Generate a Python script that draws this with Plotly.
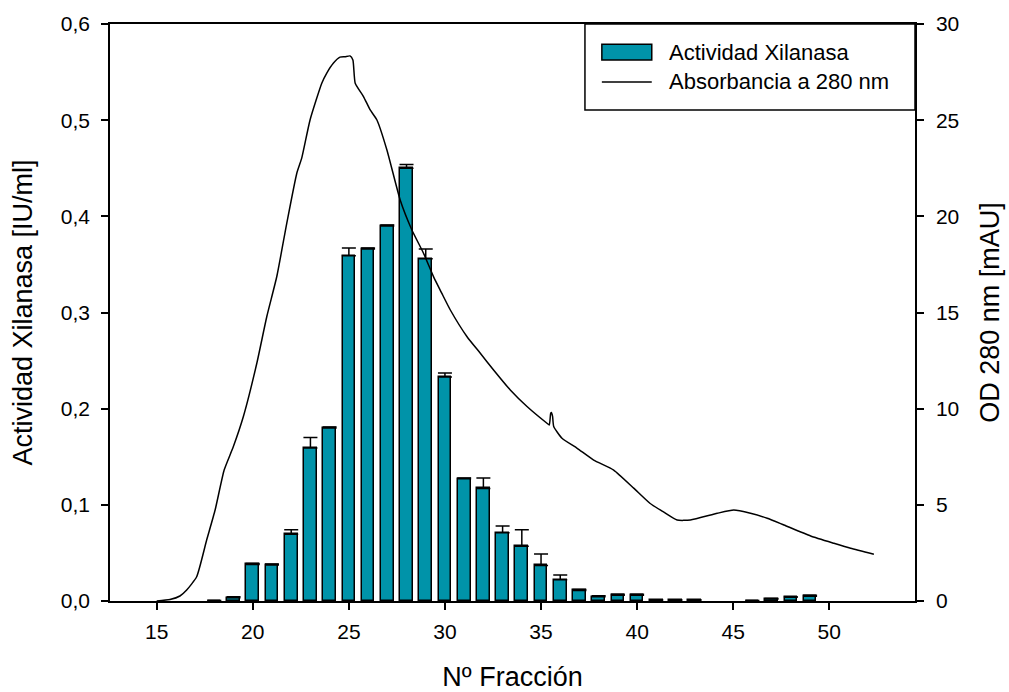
import plotly.graph_objects as go

# ---- Data ----
fractions = [18, 19, 20, 21, 22, 23, 24, 25, 26, 27, 28, 29, 30, 31, 32, 33, 34, 35,
             36, 37, 38, 39, 40, 41, 42, 43, 46, 47, 48, 49]
xilanasa = [0.0005, 0.0035, 0.038, 0.0375, 0.0695, 0.159, 0.180, 0.359, 0.366, 0.390,
            0.450, 0.356, 0.233, 0.127, 0.117, 0.071, 0.057, 0.037, 0.022, 0.011,
            0.0045, 0.006, 0.006, 0.001, 0.001, 0.001, 0.0005, 0.002, 0.004, 0.005]
xilanasa_err = [0.0, 0.001, 0.001, 0.001, 0.0045, 0.011, 0.001, 0.008, 0.001, 0.001,
                0.004, 0.010, 0.004, 0.001, 0.011, 0.007, 0.017, 0.012, 0.005, 0.001,
                0.001, 0.001, 0.001, 0.0, 0.0, 0.0, 0.0, 0.0005, 0.0005, 0.001]

abs_fraction = [15.00, 15.69, 16.21, 16.56, 17.08, 17.60, 18.04, 18.51, 18.99, 19.51,
                20.21, 20.73, 21.25, 21.77, 22.29, 22.55, 22.98, 23.59, 23.85, 24.20,
                24.54, 24.80, 25.06, 25.21, 25.33, 25.76, 26.11, 26.46, 26.98, 27.67,
                28.28, 28.89, 29.41, 29.84, 30.28, 31.15, 31.84, 32.53, 33.40, 34.27,
                35.31, 35.43, 35.50, 35.54, 35.60, 35.66, 36.09, 36.88, 37.74, 38.78,
                39.82, 40.68, 41.37, 42.08, 42.77, 44.17, 45.03, 45.90, 46.77, 47.64,
                49.03, 50.24, 51.11, 52.32]
abs_mau = [0.00, 0.08, 0.26, 0.57, 1.26, 3.17, 4.73, 6.81, 8.03, 9.59,
           12.36, 14.79, 16.87, 19.65, 22.24, 23.04, 25.01, 26.92, 27.45, 27.97,
           28.28, 28.30, 28.34, 28.13, 26.92, 26.23, 25.53, 25.01, 23.45, 20.85,
           19.29, 18.07, 16.85, 15.99, 15.13, 13.74, 12.88, 12.01, 10.97, 10.11,
           9.24, 9.15, 9.75, 9.80, 9.60, 9.07, 8.46, 7.94, 7.33, 6.81,
           5.87, 5.07, 4.63, 4.21, 4.21, 4.56, 4.73, 4.56, 4.30, 3.95,
           3.38, 3.00, 2.74, 2.43]

x_ticks = [15, 20, 25, 30, 35, 40, 45, 50]
y_ticks = [0.0, 0.1, 0.2, 0.3, 0.4, 0.5, 0.6]
y2_ticks = [0, 5, 10, 15, 20, 25, 30]

TEAL = "#0093A9"
FONT = "Liberation Sans, Arial, sans-serif"

fig = go.Figure()
fig.add_trace(go.Bar(
    x=fractions, y=xilanasa, name="Actividad Xilanasa", width=0.66,
    marker=dict(color=TEAL, line=dict(color="black", width=1.5)),
    error_y=dict(type="data", symmetric=False, array=xilanasa_err,
                 arrayminus=[0] * len(xilanasa_err), color="black",
                 thickness=1.5, width=7),
    showlegend=False,
))
fig.add_trace(go.Scatter(
    x=abs_fraction, y=abs_mau, name="Absorbancia a 280 nm", yaxis="y2",
    mode="lines", line=dict(color="black", width=1.5, shape="spline", smoothing=0.5),
    showlegend=False,
))

axis_common = dict(showline=True, linecolor="black", linewidth=1.5, ticks="outside",
                   ticklen=7, tickwidth=1.5, tickcolor="black", showgrid=False,
                   zeroline=False, automargin=False, tickfont=dict(size=21, color="black"))

fig.update_layout(
    width=1009, height=692,
    margin=dict(l=110, r=94, t=24, b=91, autoexpand=False),
    paper_bgcolor="white", plot_bgcolor="white",
    font=dict(family=FONT, color="black"),
    separators=", ",
    xaxis=dict(range=[12.57, 54.46], tickvals=x_ticks, mirror=True, ticklabelstandoff=4,
               title=dict(text="Nº Fracción", font=dict(size=27), standoff=30),
               **axis_common),
    yaxis=dict(range=[0, 0.6], tickvals=y_ticks, tickformat=".1f", ticklabelstandoff=7,
               title=dict(text="Actividad Xilanasa [IU/ml]", font=dict(size=27), standoff=20),
               **axis_common),
    yaxis2=dict(range=[0, 30], tickvals=y2_ticks, overlaying="y", side="right",
                ticklabelstandoff=8,
                title=dict(text="OD 280 nm [mAU]", font=dict(size=27), standoff=22),
                **axis_common),
    bargap=0,
)

# Legend drawn as a box with swatches (matches the reference style)
fig.add_shape(type="rect", xref="paper", yref="paper", x0=0.590, x1=1.0, y0=0.851, y1=1.0,
              line=dict(color="black", width=1.5), fillcolor="white", layer="above")
fig.add_shape(type="rect", xref="paper", yref="paper", x0=0.611, x1=0.673, y0=0.9376, y1=0.9648,
              line=dict(color="black", width=1.5), fillcolor=TEAL, layer="above")
fig.add_shape(type="line", xref="paper", yref="paper", x0=0.611, x1=0.673, y0=0.8995, y1=0.8995,
              line=dict(color="black", width=1.5), layer="above")
fig.add_annotation(xref="paper", yref="paper", x=0.692, y=0.9510, xanchor="left", yanchor="middle",
                   text="Actividad Xilanasa", showarrow=False, font=dict(size=22, color="black"))
fig.add_annotation(xref="paper", yref="paper", x=0.692, y=0.8995, xanchor="left", yanchor="middle",
                   text="Absorbancia a 280 nm", showarrow=False, font=dict(size=22, color="black"))

fig.write_html("out.html")
